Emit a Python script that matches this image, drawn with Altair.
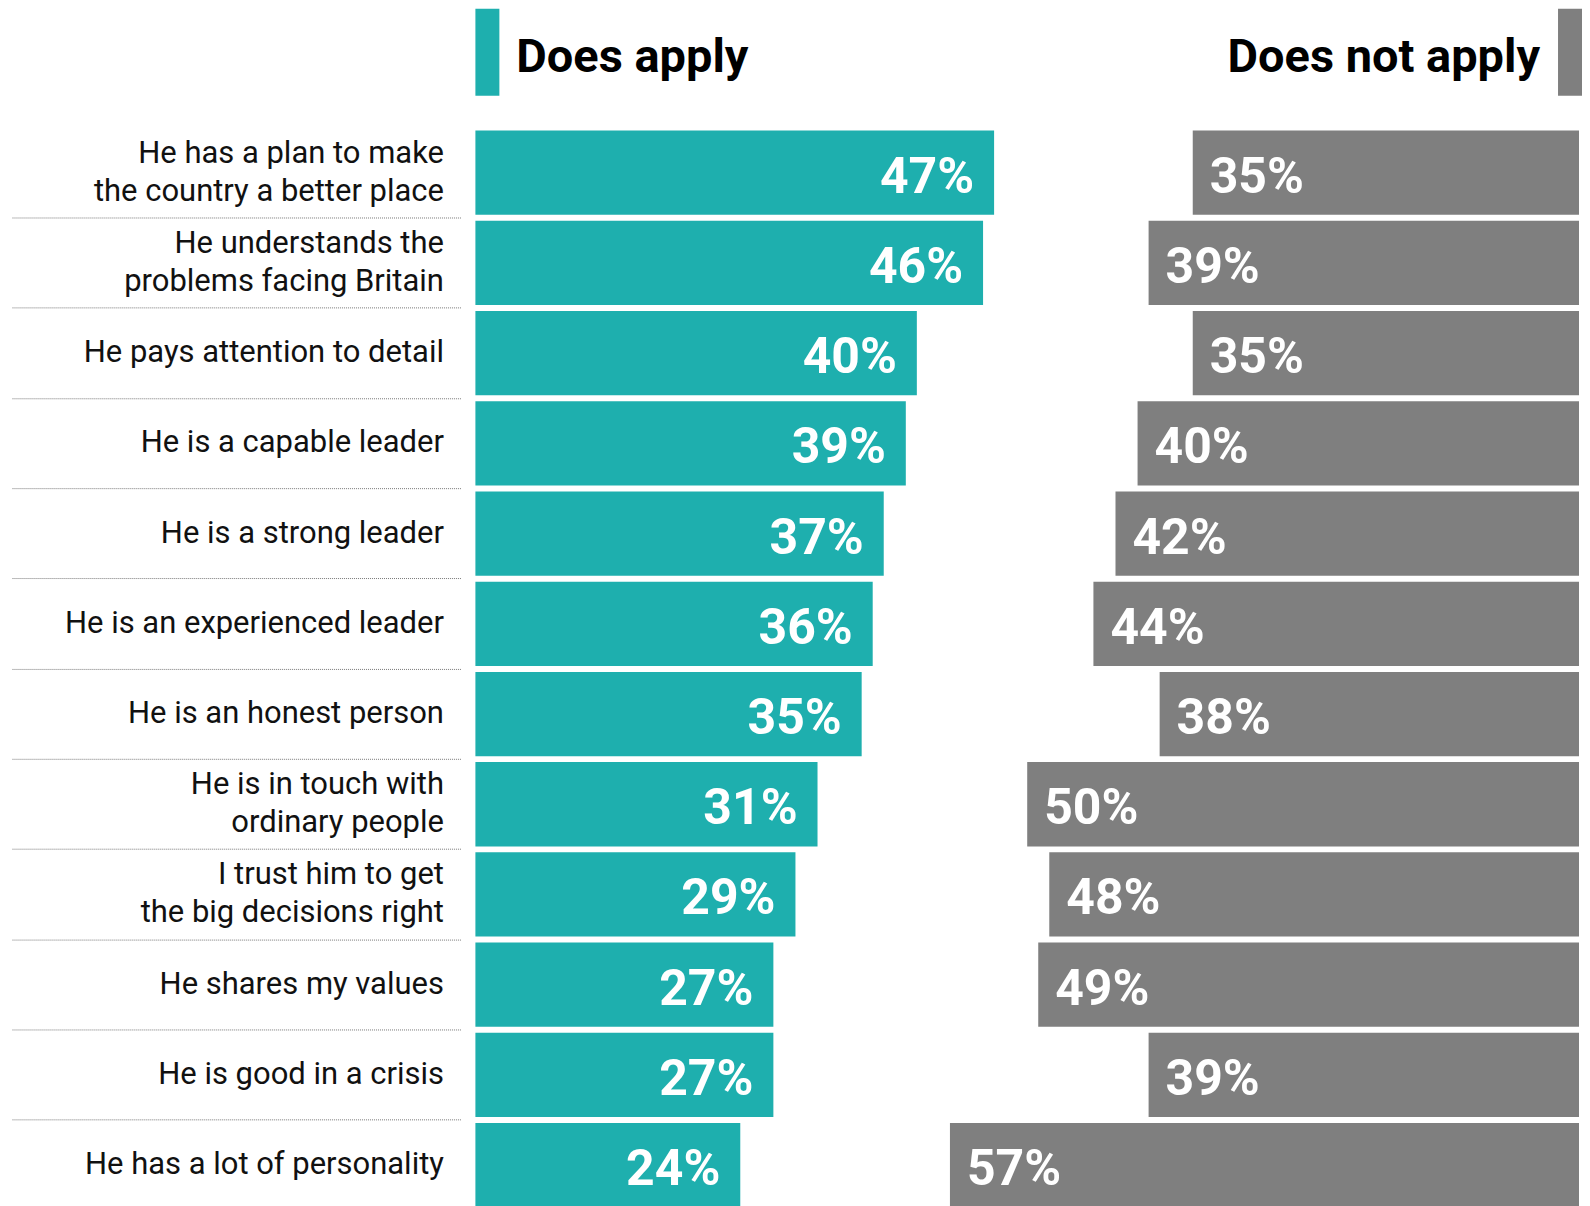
import altair as alt
import pandas as pd

statements = [
    "He has a plan to make|the country a better place",
    "He understands the|problems facing Britain",
    "He pays attention to detail\u00a0",
    "He is a capable leader",
    "He is a strong leader",
    "He is an experienced leader",
    "He is an honest person",
    "He is in touch with|ordinary people",
    "I trust him to get|the big decisions right",
    "He shares my values",
    "He is good in a crisis",
    "He has a lot of personality",
]
does_apply = [47, 46, 40, 39, 37, 36, 35, 31, 29, 27, 27, 24]
does_not_apply = [35, 39, 35, 40, 42, 44, 38, 50, 48, 49, 39, 57]
series_names = ["Does apply", "Does not apply"]

TEAL = "#1EAFAE"
GREY = "#7F7F7F"
FONT = "Roboto"

df = pd.DataFrame({"statement": statements, "apply": does_apply, "not_apply": does_not_apply})

W, H = 1105, 1078
xscale = alt.Scale(domain=[0, 100])
yenc = alt.Y(
    "statement:N",
    sort=statements,
    title=None,
    scale=alt.Scale(paddingInner=0.066, paddingOuter=0),
    axis=alt.Axis(
        domain=False,
        grid=False,
        ticks=True,
        tickExtra=False,
        tickSize=450,
        tickColor="#777777",
        tickDash=[1, 1],
        tickWidth=1,
        bandPosition=1.036,
        offset=15,
        labelPadding=-433,
        labelFont=FONT,
        labelFontSize=31,
        labelColor="#111111",
        labelLimit=0,
        labelLineHeight=38,
        labelOffset={"condition": {"test": "indexof(datum.value, '|') >= 0", "value": -19}, "value": 0},
        labelExpr="split(datum.label, '|')",
    ),
)

base = alt.Chart(df)

teal_bars = base.mark_bar(color=TEAL).encode(
    x=alt.X("apply:Q", scale=xscale, axis=None),
    y=yenc,
)
teal_text = base.mark_text(
    align="right", baseline="alphabetic", dx=-20, dy=20,
    font=FONT, fontSize=50, fontWeight="bold", color="white",
).encode(
    x=alt.X("apply:Q", scale=xscale, axis=None),
    y=alt.Y("statement:N", sort=statements),
    text=alt.Text("apply_label:N"),
).transform_calculate(apply_label="datum.apply + '%'")

grey_base = base.transform_calculate(
    na_start="100 - datum.not_apply", na_end="100", na_label="datum.not_apply + '%'"
)
grey_bars = grey_base.mark_bar(color=GREY).encode(
    x=alt.X("na_start:Q", scale=xscale, axis=None),
    x2="na_end:Q",
    y=alt.Y("statement:N", sort=statements),
)
grey_text = grey_base.mark_text(
    align="left", baseline="alphabetic", dx=17, dy=20,
    font=FONT, fontSize=50, fontWeight="bold", color="white",
).encode(
    x=alt.X("na_start:Q", scale=xscale, axis=None),
    y=alt.Y("statement:N", sort=statements),
    text="na_label:N",
)

hdr_apply = pd.DataFrame({"label": [series_names[0]]})
hdr_not = pd.DataFrame({"label": [series_names[1]]})

hdr_teal_block = alt.Chart(hdr_apply).mark_rect(color=TEAL).encode(
    x=alt.value(0), x2=alt.value(24), y=alt.value(-122), y2=alt.value(-35)
)
hdr_teal_text = alt.Chart(hdr_apply).mark_text(
    align="left", baseline="alphabetic", font=FONT, fontSize=47, fontWeight="bold", color="#000000"
).encode(x=alt.value(41), y=alt.value(-59), text="label:N")

hdr_grey_block = alt.Chart(hdr_not).mark_rect(color=GREY).encode(
    x=alt.value(1084), x2=alt.value(1108), y=alt.value(-122), y2=alt.value(-35)
)
hdr_grey_text = alt.Chart(hdr_not).mark_text(
    align="right", baseline="alphabetic", font=FONT, fontSize=47, fontWeight="bold", color="#000000"
).encode(x=alt.value(1066), y=alt.value(-59), text="label:N")

chart = alt.layer(
    teal_bars, grey_bars, teal_text, grey_text,
    hdr_teal_block, hdr_teal_text, hdr_grey_block, hdr_grey_text,
).properties(
    width=W, height=H, padding={"left": 2, "top": 0, "right": 0, "bottom": 0},
    background="white",
).configure_view(stroke=None)

chart.save("out.html", embed_options={"renderer": "svg", "actions": False})
